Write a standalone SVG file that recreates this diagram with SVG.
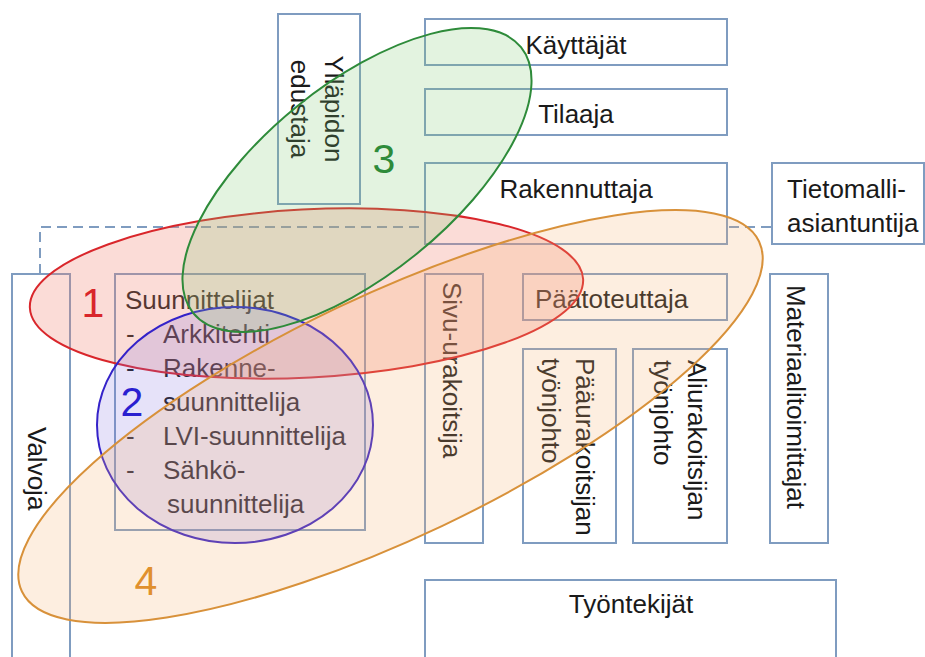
<svg xmlns="http://www.w3.org/2000/svg" width="925" height="657" viewBox="0 0 925 657">
<style>
.box{fill:#ffffff;stroke:#7f9cc0;stroke-width:2}
.t{font-family:"Liberation Sans",Arial,sans-serif;font-size:26px;fill:#1a1a1a}
.num{font-family:"Liberation Sans",Arial,sans-serif;font-size:41px;text-anchor:middle}
.mid{text-anchor:middle}
</style>
<rect width="925" height="657" fill="#ffffff"/>
<g id="connectors">
<path d="M40,274 V227 H772" fill="none" stroke="#7f9cc0" stroke-width="2" stroke-dasharray="10,6"/>
</g>
<g id="yllapidon">
<rect class="box" x="278" y="14" width="82" height="190"/>
<text class="t mid" transform="translate(325,109) rotate(90)">Ylläpidon</text>
<text class="t mid" transform="translate(291,109) rotate(90)">edustaja</text>
</g>
<g id="kayttajat">
<rect class="box" x="425" y="19" width="302" height="46"/>
<text class="t mid" x="576" y="54">Käyttäjät</text>
</g>
<g id="tilaaja">
<rect class="box" x="425" y="89" width="302" height="46"/>
<text class="t mid" x="576" y="123">Tilaaja</text>
</g>
<g id="rakennuttaja">
<rect class="box" x="425" y="163" width="302" height="81"/>
<text class="t mid" x="576" y="198">Rakennuttaja</text>
</g>
<g id="tietomalli">
<rect class="box" x="772" y="163" width="152" height="81"/>
<text class="t" x="787" y="198">Tietomalli-</text>
<text class="t" x="787" y="232">asiantuntija</text>
</g>
<g id="valvoja">
<rect class="box" x="12" y="274" width="58" height="400"/>
<text class="t" transform="translate(28,427) rotate(90)">Valvoja</text>
</g>
<g id="suunnittelijat">
<rect class="box" x="115" y="274" width="250" height="256"/>
<text class="t" x="125" y="309">Suunnittelijat</text>
<text class="t" x="126" y="343">-</text><text class="t" x="163" y="343">Arkkitehti</text>
<text class="t" x="126" y="377">-</text><text class="t" x="163" y="377">Rakenne-</text>
<text class="t" x="163" y="411">suunnittelija</text>
<text class="t" x="126" y="445">-</text><text class="t" x="163" y="445">LVI-suunnittelija</text>
<text class="t" x="126" y="479">-</text><text class="t" x="163" y="479">Sähkö-</text>
<text class="t" x="167" y="513">suunnittelija</text>
</g>
<g id="sivu-urakoitsija">
<rect class="box" x="425" y="274" width="58" height="269"/>
<text class="t" transform="translate(443,282) rotate(90)">Sivu-urakoitsija</text>
</g>
<g id="paatoteuttaja">
<rect class="box" x="523" y="274" width="204" height="46"/>
<text class="t" x="535" y="308">Päätoteuttaja</text>
</g>
<g id="paaurakoitsijan">
<rect class="box" x="523" y="349" width="93" height="194"/>
<text class="t" transform="translate(576,358) rotate(90)">Pääurakoitsijan</text>
<text class="t" transform="translate(542,358) rotate(90)">työnjohto</text>
</g>
<g id="aliurakoitsijan">
<rect class="box" x="633" y="349" width="94" height="194"/>
<text class="t" transform="translate(688,360) rotate(90)">Aliurakoitsijan</text>
<text class="t" transform="translate(654,360) rotate(90)">työnjohto</text>
</g>
<g id="materiaalitoimittajat">
<rect class="box" x="770" y="274" width="58" height="269"/>
<text class="t" transform="translate(787,285) rotate(90)">Materiaalitoimittajat</text>
</g>
<g id="tyontekijat">
<rect class="box" x="425" y="580" width="411" height="100"/>
<text class="t mid" x="631" y="613">Työntekijät</text>
</g>
<g id="ryhma1">
<ellipse cx="306.5" cy="293.5" rx="277" ry="84" transform="rotate(-3 306.5 293.5)" fill="#f08070" fill-opacity="0.28" stroke="#d9262b" stroke-width="2"/>
<text class="num" x="93" y="317" fill="#d9262b">1</text>
</g>
<g id="ryhma2">
<ellipse cx="235" cy="425" rx="138" ry="118" fill="#8070e0" fill-opacity="0.2" stroke="#3422c9" stroke-width="2"/>
<text class="num" x="132" y="416" fill="#2a1fd0">2</text>
</g>
<g id="ryhma3">
<ellipse cx="357" cy="180" rx="211" ry="95" transform="rotate(-39 357 180)" fill="#80c870" fill-opacity="0.22" stroke="#2e8b3a" stroke-width="2"/>
<text class="num" x="384" y="173" fill="#2e8b3a">3</text>
</g>
<g id="ryhma4">
<ellipse cx="390.5" cy="416.5" rx="408" ry="121" transform="rotate(-25.4 390.5 416.5)" fill="#f5b070" fill-opacity="0.22" stroke="#d8913a" stroke-width="2"/>
<text class="num" x="146" y="595" fill="#e0902e">4</text>
</g>
</svg>
